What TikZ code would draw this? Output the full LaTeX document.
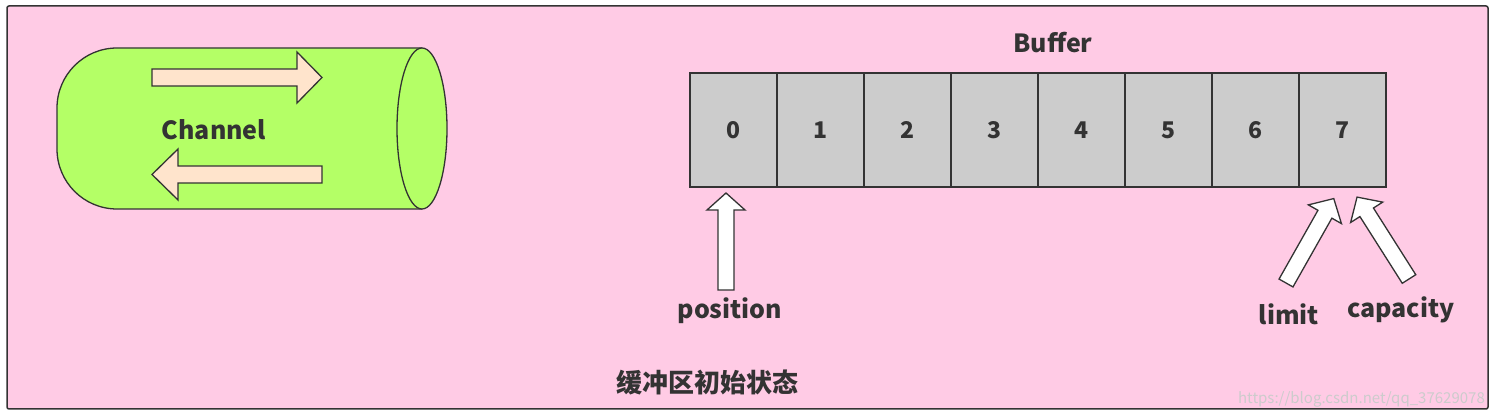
\documentclass[tikz,border=0pt]{standalone}
\usepackage{fontspec}
\setmainfont{Noto Sans CJK SC}
\begin{document}
\begin{tikzpicture}[x=1pt,y=1pt,
  lbl/.style={font=\bfseries\fontsize{25}{30}\selectfont,text=black!80},
  cell/.style={draw=black!80,line width=1.2pt,fill=black!20,minimum width=87pt,minimum height=114pt,inner sep=0pt,font=\bfseries\fontsize{23}{28}\selectfont,text=black!80},
  shp/.style={draw=black!80,line width=1.3pt,line join=miter}]
\newcommand\fatarrow[7]{% x y angle length shaftw headlen fill
  \begin{scope}[shift={(#1,#2)},rotate=#3]
    \draw[shp,fill=#7] (0,-#5)--({#4-#6},-#5)--({#4-#6},{-(#5+11)})--(#4,0)--({#4-#6},{#5+11})--({#4-#6},#5)--(0,#5)--cycle;
  \end{scope}}
\useasboundingbox (0,0) rectangle (1496,419);
\fill[white] (0,0) rectangle (1496,419);
\draw[black!80,line width=1.5pt,fill={rgb,255:red,255;green,203;blue,229},rounded corners=2pt] (7,10) rectangle (1488,413);
% channel
\definecolor{lime}{RGB}{180,255,102}
\definecolor{peach}{RGB}{255,228,204}
\draw[shp,fill=lime,rounded corners=60pt] (422,371) -- (57,371) -- (57,210) -- (422,210);
\draw[shp,fill=lime] (422,290.5) ellipse [x radius=25,y radius=80.5];
\node[lbl] (ch) at (214,289) {Channel};
\begin{scope}[shift={(152,341.5)}]
 \draw[shp,fill=peach] (0,-8.5)--(145,-8.5)--(145,-25.5)--(170,0)--(145,25.5)--(145,8.5)--(0,8.5)--cycle;
\end{scope}
\begin{scope}[shift={(322,244.5)},rotate=180]
 \draw[shp,fill=peach] (0,-8.5)--(144,-8.5)--(144,-25.5)--(170,0)--(144,25.5)--(144,8.5)--(0,8.5)--cycle;
\end{scope}
% buffer
\node[lbl] (buf) at (1053,376) {Buffer};
\foreach \i in {0,...,7}{
  \node[cell] (c\i) at ({733.5+87*\i},289) {\i};
}
% arrows
\fatarrow{726}{129}{90}{97}{8}{17}{white}
\fatarrow{1286}{136}{60.5}{97}{8}{18}{white}
\fatarrow{1409}{140}{122.4}{97}{8}{18}{white}
\node[lbl] (pos) at (730,108) {position};
\node[lbl] (lim) at (1289,105) {limit};
\node[lbl] (cap) at (1401,109) {capacity};
\node[lbl,font=\bfseries\fontsize{26}{30}\selectfont] (title) at (707,37) {缓冲区初始状态};
\node[text=white!80!black,font=\fontsize{15}{18}\selectfont,anchor=east,inner sep=0pt] (wm) at (1485,20) {https://blog.csdn.net/qq\_37629078};
\end{tikzpicture}
\end{document}
